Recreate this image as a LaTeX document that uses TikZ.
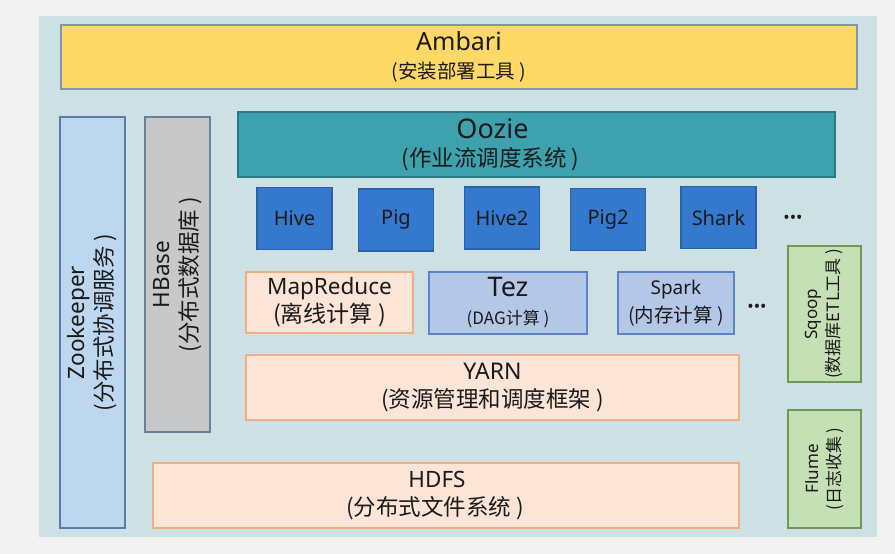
\documentclass[tikz,border=0pt]{standalone}
\usepackage{fontspec}
\setmainfont{Noto Sans}
\newfontfamily\cjk{Noto Sans CJK SC}
\definecolor{pagebg}{HTML}{F2F2F2}
\definecolor{panelbg}{HTML}{CDE0E4}
\definecolor{ambfill}{HTML}{FFD966}
\definecolor{ambline}{HTML}{7F98A8}
\definecolor{zoofill}{HTML}{BDD7EE}
\definecolor{zooline}{HTML}{5A7DA6}
\definecolor{hbfill}{HTML}{C8C8C8}
\definecolor{hbline}{HTML}{6A7F9A}
\definecolor{oozfill}{HTML}{3EA2AE}
\definecolor{oozline}{HTML}{2E7784}
\definecolor{toolfill}{HTML}{3579CF}
\definecolor{toolline}{HTML}{2A62A8}
\definecolor{engfill}{HTML}{FCE4D6}
\definecolor{engline}{HTML}{F2AE80}
\definecolor{dagfill}{HTML}{B4C7E7}
\definecolor{dagline}{HTML}{5B83C7}
\definecolor{etlfill}{HTML}{C5E0B4}
\definecolor{etlline}{HTML}{6F9A55}
\definecolor{txt}{HTML}{1A1A1A}
\tikzset{
  layer/.style={draw, line width=1.2pt, align=center, text=txt, inner sep=0pt,
    font=\fontsize{22.5}{28}\selectfont},
  ambbox/.style={layer, fill=ambfill, draw=ambline},
  zoobox/.style={layer, fill=zoofill, draw=zooline, rotate=90},
  hbbox/.style={layer, fill=hbfill, draw=hbline, rotate=90},
  oozbox/.style={layer, fill=oozfill, draw=oozline},
  toolbox/.style={layer, fill=toolfill, draw=toolline, minimum width=75pt,
    minimum height=62pt, font=\fontsize{20}{24}\selectfont},
  engbox/.style={layer, fill=engfill, draw=engline},
  dagbox/.style={layer, fill=dagfill, draw=dagline},
  etlbox/.style={layer, fill=etlfill, draw=etlline, rotate=90,
    font=\fontsize{17}{22}\selectfont},
  more/.style={text=txt, inner sep=0pt, font=\fontsize{17}{17}\selectfont}
}
\begin{document}
\begin{tikzpicture}[x=1pt, y=-1pt]
  % background and panel
  \fill[pagebg] (0,0) rectangle (895,554);
  \useasboundingbox (0,0) rectangle (895,554);
  \fill[panelbg] (39,16) rectangle (877,537);
  % top and side layers
  \node[ambbox, minimum width=796pt, minimum height=64pt] (ambari) at (459,57)
    {\fontsize{25}{28}\selectfont Ambari\\{\cjk\fontsize{19.5}{28}\selectfont (安装部署工具 )}};
  \node[zoobox, minimum width=411pt, minimum height=65pt] (zoo) at (92.5,322.5)
    {Zookeeper\\{\cjk (分布式协调服务 )}};
  \node[hbbox, minimum width=315pt, minimum height=65pt] (hbase) at (177.5,274.5)
    {HBase\\{\cjk (分布式数据库 )}};
  \node[oozbox, minimum width=597pt, minimum height=65pt] (oozie) at (536.5,144.5)
    {\fontsize{27}{30}\selectfont Oozie\hspace*{88pt}\\{\cjk\fontsize{22.5}{28}\selectfont (作业流调度系统 )\hspace*{92pt}}};
  % tools on top of the engines
  \def \Tools{
    hive/Hive/294.5/218.5,
    pig/Pig/396/220,
    hive2/Hive2/502/218,
    pig2/Pig2/608/219.5,
    shark/Shark/718.5/217.5}
  \foreach \id / \name / \x / \y in \Tools{
    \node[toolbox] (\id) at (\x, \y) {\name};
  }
  \node[more] (moretools) at (793,219) {•••};
  % engines
  \node[engbox, minimum width=167pt, minimum height=61pt] (mapred) at (329.5,302.5)
    {MapReduce\\{\cjk\fontsize{23}{28}\selectfont (离线计算 )}};
  \node[dagbox, minimum width=158pt, minimum height=62pt] (tez) at (508,303)
    {\fontsize{27}{33}\selectfont Tez\\{\cjk\fontsize{17}{20}\selectfont (DAG计算 )}};
  \node[dagbox, minimum width=116pt, minimum height=62pt] (spark) at (676,303)
    {\fontsize{19}{26}\selectfont Spark\\{\cjk\fontsize{19.5}{26}\selectfont (内存计算 )}};
  \node[more] (moreeng) at (757,308) {•••};
  % resource layer and storage
  \node[engbox, minimum width=493pt, minimum height=65pt] (yarn) at (492.5,387.5)
    {\fontsize{23}{28}\selectfont YARN\\{\cjk (资源管理和调度框架 )}};
  \node[engbox, minimum width=586pt, minimum height=65pt] (hdfs) at (446,495.5)
    {HDFS\hspace*{18pt}\\{\cjk (分布式文件系统 )\hspace*{22pt}}};
  % data collection
  \node[etlbox, minimum width=136pt, minimum height=73pt] (sqoop) at (824.5,314)
    {Sqoop\\{\cjk (数据库ETL工具 )}};
  \node[etlbox, minimum width=118pt, minimum height=73pt] (flume) at (824.5,469)
    {Flume\\{\cjk (日志收集 )}};
\end{tikzpicture}
\end{document}
